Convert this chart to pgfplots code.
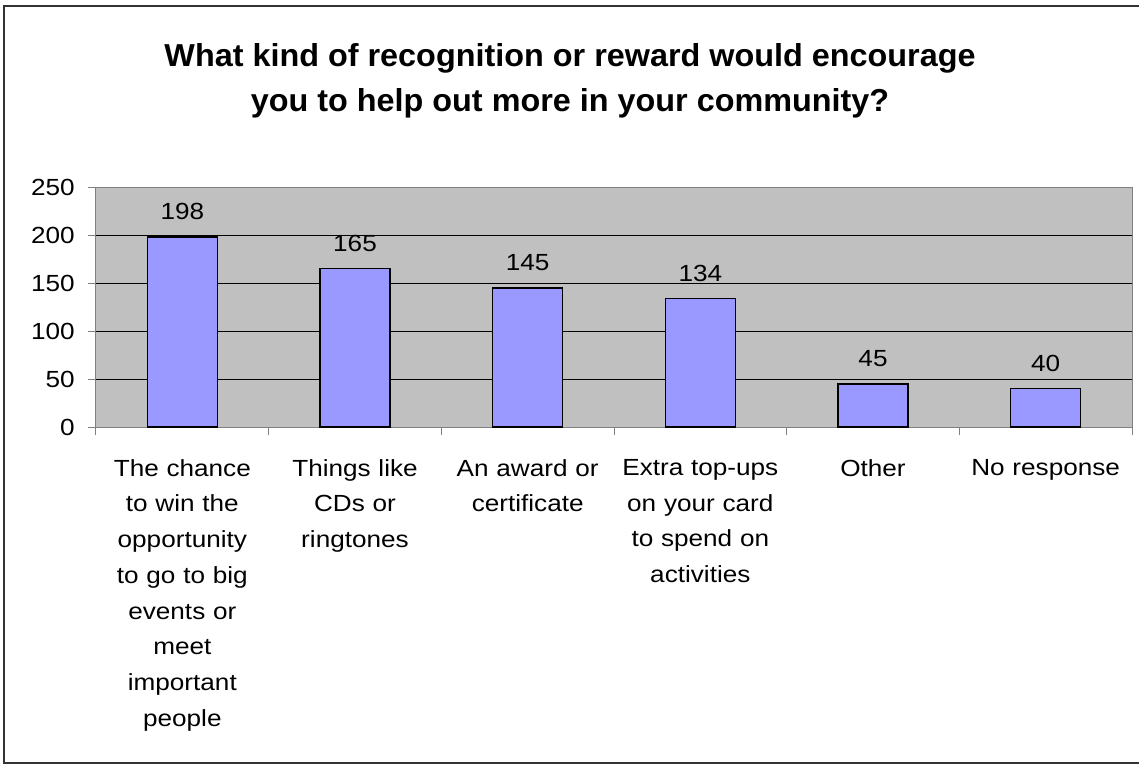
\documentclass[border=0pt]{standalone}
\usepackage{fontspec}
\setmainfont{Liberation Sans}[FakeStretch=1.12]
\newfontfamily\titlefont{Liberation Sans}[FakeStretch=1.02]
\usepackage{pgfplots}
\pgfplotsset{compat=1.18}
\definecolor{barfill}{RGB}{153,153,255}
\definecolor{plotbg}{RGB}{192,192,192}
\definecolor{axgray}{RGB}{128,128,128}
\newcommand{\lblfont}{\fontsize{17.5}{26.8}\selectfont}
\begin{document}
\begin{tikzpicture}
\begin{scope}[x=0.75pt,y=-0.75pt]
  \path[use as bounding box] (0,0) rectangle (1139,765);
  \draw[black!80, line width=1.1pt] (1139,6) -- (4,6) -- (4,763) -- (1139,763);
  \node[font=\titlefont\fontsize{23.8}{33.75}\selectfont\bfseries, anchor=base] at (570,66.7)
    {What kind of recognition or reward would encourage};
  \node[font=\titlefont\fontsize{23.8}{33.75}\selectfont\bfseries, anchor=base] at (570,111.7)
    {you to help out more in your community?};
\end{scope}
\begin{axis}[
  at={(72pt,-320.25pt)}, anchor=south west,
  scale only axis, width=777pt, height=180pt,
  ybar, bar width=52.5pt,
  xmin=-0.5, xmax=5.5, ymin=0, ymax=250,
  ytick={0,50,...,250},
  xtick={-0.5,0.5,...,5.5}, xticklabels={},
  xtick pos=lower, ytick pos=left,
  extra x ticks={0,1,2,3,4,5},
  extra x tick labels={
    {The chance\\to win the\\opportunity\\to go to big\\events or\\meet\\important\\people},
    {Things like\\CDs or\\ringtones},
    {An award or\\certificate},
    {Extra top-ups\\on your card\\to spend on\\activities},
    {Other},
    {No response}},
  extra x tick style={major tick length=0pt,
    xticklabel style={text width=125pt, align=center, anchor=north, inner sep=0pt,
      yshift=-24pt, font=\lblfont}},
  tick align=outside, major tick length=6pt,
  tick style={axgray, line width=0.75pt},
  axis line style={axgray, line width=0.75pt},
  axis background/.style={fill=plotbg},
  ymajorgrids, y grid style={black, line width=0.75pt},
  yticklabel style={font=\lblfont, anchor=east, inner sep=0pt, xshift=-9.75pt},
  /pgf/number format/assume math mode=true,
  nodes near coords,
  every node near coord/.append style={font=\lblfont, anchor=base, inner sep=0pt, yshift=12.75pt, black},
]
\addplot[fill=barfill, draw=black, line width=1.1pt]
  coordinates {(0,198) (1,165) (2,145) (3,134) (4,45) (5,40)};
\end{axis}
\end{tikzpicture}
\end{document}
